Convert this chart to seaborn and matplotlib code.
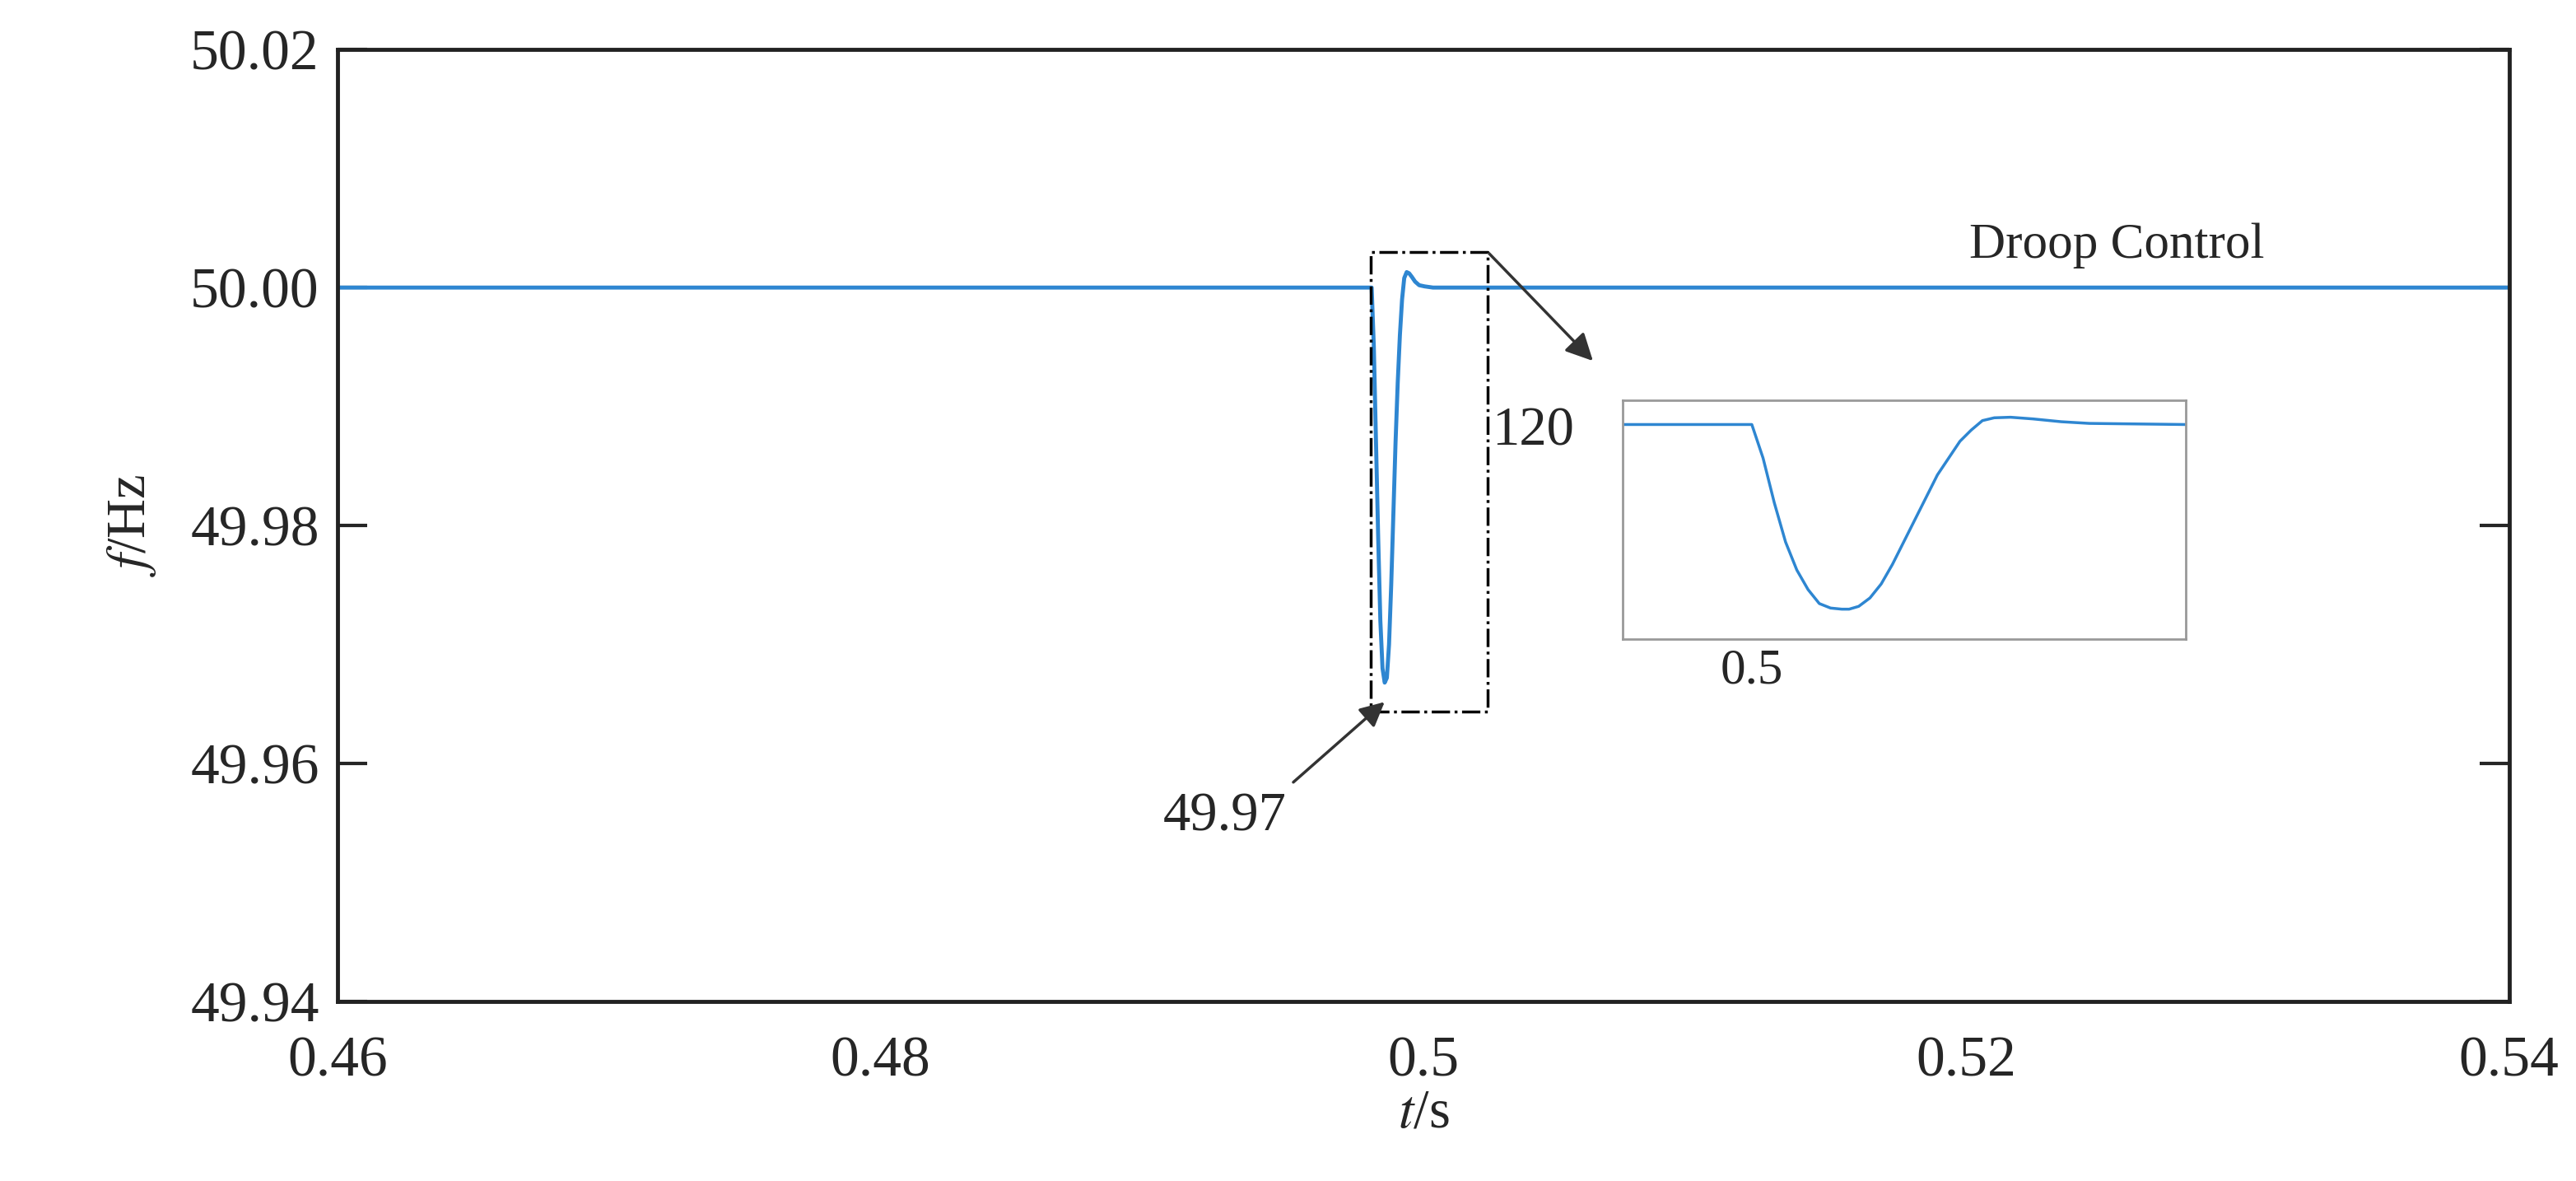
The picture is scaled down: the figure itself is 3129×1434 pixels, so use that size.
import numpy as np
import matplotlib
matplotlib.use("Agg")
import matplotlib.pyplot as plt
import seaborn as sns
import pandas as pd

sns.set_theme(style="white")
plt.rcParams['font.family'] = ['Liberation Serif', 'DejaVu Serif']
plt.rcParams['mathtext.fontset'] = 'stix'

# main series
t_main = [0.46, 0.4981, 0.49818, 0.49826, 0.49834, 0.49842, 0.4985, 0.49858, 0.49866, 0.49874, 0.49882,
          0.4989, 0.49898, 0.49906, 0.49914, 0.49922, 0.4993, 0.49939, 0.49948, 0.49958, 0.4997, 0.49985,
          0.50005, 0.50036, 0.5006, 0.54]
f_main = [50.0, 50.0, 49.995, 49.987, 49.979, 49.972, 49.968, 49.9668, 49.9672, 49.970, 49.975,
          49.981, 49.987, 49.992, 49.996, 49.999, 50.0008, 50.0013, 50.0012, 50.0009, 50.0005, 50.0002,
          50.0001, 50.0, 50.0, 50.0]
# inset series
t_in = [0.4977, 0.5, 0.5002, 0.5004, 0.5006, 0.5008, 0.5010, 0.5012, 0.5014, 0.5016, 0.50173, 0.5019,
        0.5021, 0.5023, 0.5025, 0.5027, 0.5029, 0.5031, 0.5033, 0.5035, 0.5037, 0.5039, 0.5041, 0.50431,
        0.5046, 0.5050, 0.5055, 0.5060, 0.5077]
f_in = [50.0, 50.0, 49.994, 49.986, 49.979, 49.974, 49.9705, 49.968, 49.9672, 49.967, 49.967, 49.9675,
        49.969, 49.9715, 49.975, 49.979, 49.983, 49.987, 49.991, 49.994, 49.997, 49.999, 50.0007, 50.0012,
        50.0013, 50.0010, 50.0005, 50.0002, 50.0]
xticks = [0.46, 0.48, 0.5, 0.52, 0.54]
xticklabels = ["0.46", "0.48", "0.5", "0.52", "0.54"]
yticks = [49.94, 49.96, 49.98, 50.00, 50.02]
yticklabels = ["49.94", "49.96", "49.98", "50.00", "50.02"]

color = "#2e86d1"
fig = plt.figure(figsize=(31.29, 14.34), dpi=100)
ax = fig.add_axes([0.131, 0.152, 0.843, 0.806])
sns.lineplot(x=t_main, y=f_main, ax=ax, color=color, lw=3.5, sort=False)
ax.set_xlim(0.46, 0.54)
ax.set_ylim(49.94, 50.02)
ax.set_xticks(xticks); ax.set_xticklabels(xticklabels)
ax.set_yticks(yticks); ax.set_yticklabels(yticklabels)
ax.tick_params(axis='y', direction='in', length=26, width=3, labelsize=50, pad=16, left=True, right=True)
ax.tick_params(axis='x', direction='in', length=0, labelsize=50, pad=30)
for s in ax.spines.values():
    s.set_color('#222222'); s.set_linewidth(3.5)
ax.set_xlabel(r"$t$/s", fontsize=48, labelpad=0)
ax.set_ylabel(r"$f$/Hz", fontsize=48, labelpad=28)

# dashed box
bx0, bx1, by0, by1 = 0.49806, 0.50237, 49.9644, 50.003
ax.plot([bx0, bx1, bx1, bx0, bx0], [by0, by0, by1, by1, by0], color='black', lw=2.5, ls='-.')
ax.annotate("", xy=(0.50631, 49.9937), xytext=(bx1, by1),
            arrowprops=dict(arrowstyle='-|>', color='#333333', lw=2.5, mutation_scale=50))
ax.text(0.50252, 49.9879, "120", fontsize=48, va='center', ha='left')
ax.annotate("", xy=(0.49864, 49.9653), xytext=(0.49515, 49.9583),
            arrowprops=dict(arrowstyle='-|>', color='#333333', lw=2.5, mutation_scale=45))
ax.text(0.4927, 49.9555, "49.97", fontsize=48, ha='center', va='center')
ax.text(0.5201, 50.0035, "Droop Control", fontsize=44, ha='left', va='center')

# inset
ins = ax.inset_axes([0.592, 0.381, 0.259, 0.251])
sns.lineplot(x=t_in, y=f_in, ax=ins, color=color, lw=2.5, sort=False)
ins.set_xlim(0.49771, 0.50771)
ins.set_ylim(49.9617, 50.0044)
ins.set_xticks([0.5]); ins.set_xticklabels(["0.5"])
ins.set_yticks([])
ins.tick_params(axis='x', direction='in', length=8, labelsize=44, pad=8)
for s in ins.spines.values():
    s.set_color('#999999'); s.set_linewidth(2)

fig.savefig("out.png", dpi=100)
